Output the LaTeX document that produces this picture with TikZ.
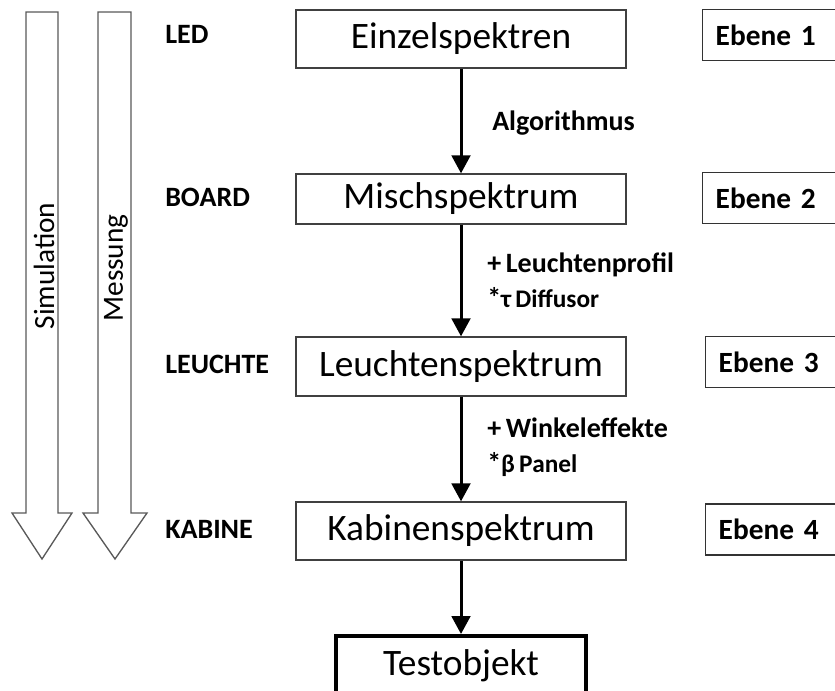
\documentclass[tikz,border=0pt]{standalone}
\usepackage{fontspec}
\setmainfont{Carlito}
\usetikzlibrary{arrows.meta}
\begin{document}
\begin{tikzpicture}[x=0.75pt,y=-0.75pt,
  spec/.style={draw=black!75, line width=1pt, minimum width=247.5pt, minimum height=43.5pt,
    inner sep=0pt, font=\fontsize{28}{30}\selectfont},
  testbox/.style={draw=black, line width=3pt, minimum width=187.5pt, minimum height=45pt,
    inner sep=0pt, font=\fontsize{28}{30}\selectfont},
  flow/.style={draw=black, line width=2.25pt, -{Triangle[width=14pt,length=13.5pt]}},
  lbl/.style={inner sep=0pt, anchor=base west, font=\bfseries\fontsize{21}{24}\selectfont},
  ebene/.style={draw=black!80, line width=1.1pt, anchor=west, minimum height=38pt,
    text width=85pt, inner xsep=9.75pt, inner ysep=0pt, align=left,
    font=\bfseries\fontsize{22}{24}\selectfont},
  bigarrow/.style={draw=black!65, line width=1pt, fill=white},
  vtext/.style={rotate=90, inner sep=0pt, font=\fontsize{22}{24}\selectfont}
]
\useasboundingbox (0,0) rectangle (835,690);
\clip (0,0) rectangle (835,690);

% big vertical arrows
\draw[bigarrow] (26,12) -- (58,12) -- (58,513) -- (72,513) -- (42,559) -- (12,513) -- (26,513) -- cycle;
\draw[bigarrow] (98,12) -- (131,12) -- (131,513) -- (147,513) -- (115,559) -- (83,513) -- (98,513) -- cycle;
\node[vtext] (sim) at (44,266) {Simulation};
\node[vtext] (mes) at (116,268) {Messung};

% main boxes
\node[spec] (e1) at (461,39) {Einzelspektren};
\node[spec, minimum height=37.5pt] (e2) at (461,199) {Mischspektrum};
\node[spec, minimum height=44.25pt] (e3) at (461,366.5) {Leuchtenspektrum};
\node[spec] (e4) at (461,531) {Kabinenspektrum};
\node[testbox] (t) at (461,666) {Testobjekt};

\draw[flow] (e1.south) -- (e2.north);
\draw[flow] (e2.south) -- (e3.north);
\draw[flow] (e3.south) -- (e4.north);
\draw[flow] (e4.south) -- (t.north);

% left labels
\node[lbl] (led) at (165,43) {LED};
\node[lbl] (board) at (165,206) {BOARD};
\node[lbl] (leuchte) at (165,373) {LEUCHTE};
\node[lbl] (kabine) at (165,538) {KABINE};

% connector annotations
\node[lbl] (alg) at (492,130) {Algorithmus};
\node[lbl] (lp) at (487,272) {+\,Leuchtenprofil};
\node[lbl] (diff) at (487,307) {*\fontsize{19}{20}\selectfont τ\,{\fontsize{19}{20}\selectfont Diffusor}};
\node[lbl] (wink) at (487,437) {+\,Winkeleffekte};
\node[lbl] (pan) at (487,472) {*\fontsize{19}{20}\selectfont β\,{\fontsize{19}{20}\selectfont Panel}};

% level boxes
\node[ebene] (eb1) at (702,35) {Ebene 1};
\node[ebene] (eb2) at (702,198) {Ebene 2};
\node[ebene] (eb3) at (705,362) {Ebene 3};
\node[ebene] (eb4) at (705,529.5) {Ebene 4};
\end{tikzpicture}
\end{document}
